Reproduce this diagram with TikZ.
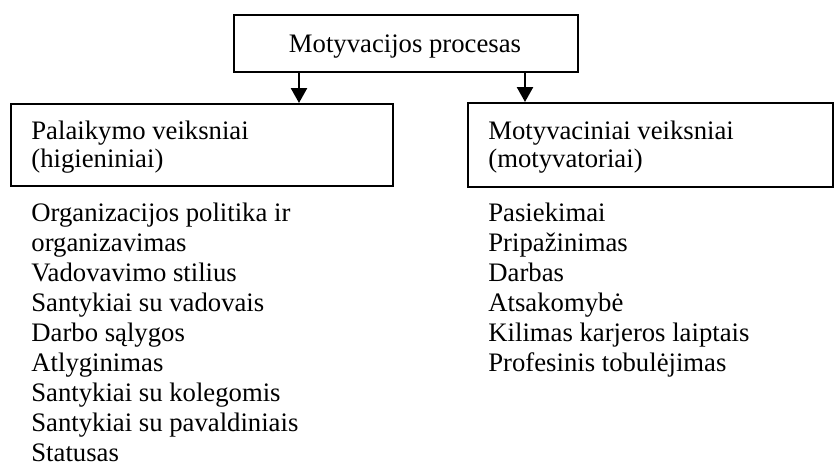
\documentclass[tikz,border=0pt]{standalone}
\usepackage{fontspec}
\setmainfont{Liberation Serif}
\usetikzlibrary{arrows.meta}
\begin{document}
\begin{tikzpicture}[x=0.5pt,y=-0.5pt,
  every node/.style={font=\fontsize{13.35pt}{15pt}\selectfont},
  frame/.style={draw, line width=1pt, inner sep=0pt, anchor=north west},
  txt/.style={inner sep=0pt, anchor=base west},
  ctxt/.style={inner sep=0pt, anchor=base},
  arr/.style={line width=1.25pt, -{Triangle[width=8pt,length=7.5pt]}}]
  \useasboundingbox (0,0) rectangle (837,468);

  % top box
  \node[frame, minimum width=172pt, minimum height=28.5pt] (proc) at (233,14) {};
  \node[ctxt] (procT) at (405,52) {Motyvacijos procesas};

  % left factor box
  \node[frame, minimum width=191pt, minimum height=41pt] (hyg) at (10,103) {};
  \node[txt] (hygA) at (31,139) {Palaikymo veiksniai};
  \node[txt] (hygB) at (31,167) {(higieniniai)};

  % right factor box
  \node[frame, minimum width=182.5pt, minimum height=42pt] (mot) at (467,102) {};
  \node[txt] (motA) at (488,139) {Motyvaciniai veiksniai};
  \node[txt] (motB) at (488,167) {(motyvatoriai)};

  % arrows
  \coordinate (aL) at (299,0);
  \coordinate (aR) at (525,0);
  \draw[arr] (proc.south -| aL) -- (hyg.north -| aL);
  \draw[arr] (proc.south -| aR) -- (mot.north -| aR);

  % hygiene factors
  \foreach \t [count=\i] in {Organizacijos politika ir, organizavimas,
      Vadovavimo stilius, Santykiai su vadovais, Darbo sąlygos, Atlyginimas,
      Santykiai su kolegomis, Santykiai su pavaldiniais, Statusas}
    \node[txt] (h\i) at (31,{191+30*\i}) {\t};

  % motivators
  \foreach \t [count=\i] in {Pasiekimai, Pripažinimas, Darbas, Atsakomybė,
      Kilimas karjeros laiptais, Profesinis tobulėjimas}
    \node[txt] (m\i) at (488,{191+30*\i}) {\t};
\end{tikzpicture}
\end{document}
